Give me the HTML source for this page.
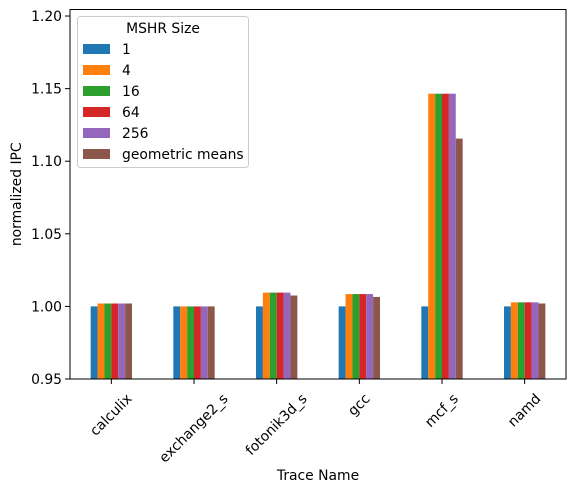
<!DOCTYPE html>
<html><head><meta charset="utf-8"><style>
body{margin:0;background:#fff}
svg{font-family:"DejaVu Sans","Liberation Sans",sans-serif;display:block}
</style></head><body>
<svg id="c" width="576" height="492" viewBox="0 0 576 492"></svg>
<script>
const categories=["calculix","exchange2_s","fotonik3d_s","gcc","mcf_s","namd"];
const seriesNames=["1","4","16","64","256","geometric means"];
const s1=[1.000,1.000,1.000,1.000,1.000,1.000];
const s4=[1.002,1.000,1.0095,1.0085,1.1465,1.0028];
const s16=[1.002,1.000,1.0095,1.0085,1.1465,1.0028];
const s64=[1.002,1.000,1.0095,1.0085,1.1465,1.0028];
const s256=[1.002,1.000,1.0095,1.0085,1.1465,1.0028];
const sGeo=[1.002,1.000,1.0075,1.0065,1.1156,1.002];
const yTicks=[0.95,1.00,1.05,1.10,1.15,1.20];
const colors=["#1f77b4","#ff7f0e","#2ca02c","#d62728","#9467bd","#8c564b"];
const series=[s1,s4,s16,s64,s256,sGeo];
const L=70,R=566,T=9.5,B=379,ymin=0.95,ymax=1.2045,FS=13.9;
const svg=document.getElementById('c');const NS='http://www.w3.org/2000/svg';
function mk(t,a,p){const e=document.createElementNS(NS,t);for(const k in a)e.setAttribute(k,a[k]);(p||svg).appendChild(e);return e;}
const xs=i=>L+(i+0.5)*(R-L)/categories.length;
const ys=v=>B-(v-ymin)/(ymax-ymin)*(B-T);
const gw=(R-L)/categories.length*0.5,bw=gw/6;
series.forEach((s,j)=>{s.forEach((v,i)=>{
 const r=mk('rect',{x:xs(i)-gw/2+j*bw,y:ys(v),width:bw,height:B-ys(v),fill:colors[j]});
 
 
});});
yTicks.forEach(t=>{const y=ys(t);
 const l=mk('line',{x1:L-5,x2:L,y1:y,y2:y,stroke:'#000','stroke-width':1});
 
 const tx=mk('text',{x:L-8,y:y+5,'font-size':FS,'text-anchor':'end'});tx.textContent=t.toFixed(2);
 
});
categories.forEach((c,i)=>{const x=xs(i);
 const l=mk('line',{x1:x,x2:x,y1:B,y2:B+5,stroke:'#000','stroke-width':1});
 
 const g=mk('g',{});
 const tx=mk('text',{x:0,y:5,'font-size':FS,'text-anchor':'middle',transform:'rotate(-45)'},g);tx.textContent=c;
 
 const bb=g.getBBox();
 g.setAttribute('transform',`translate(${x-(bb.x+bb.width/2)},${B+12-bb.y})`);
});
const fr=mk('rect',{x:L,y:T,width:R-L,height:B-T,fill:'none',stroke:'#000','stroke-width':1});

const yl=mk('text',{x:21,y:(T+B)/2,'font-size':FS,'text-anchor':'middle',transform:`rotate(-90 21 ${(T+B)/2})`});yl.textContent='normalized IPC';

const xl=mk('text',{x:(L+R)/2,y:480,'font-size':FS,'text-anchor':'middle'});xl.textContent='Trace Name';

const lg=mk('g',{});

mk('rect',{x:77.5,y:16.5,width:171,height:151,rx:3,fill:'#fff','fill-opacity':0.8,stroke:'#ccc'},lg);
const lt=mk('text',{x:163,y:33,'font-size':FS,'text-anchor':'middle'},lg);lt.textContent='MSHR Size';
seriesNames.forEach((n,j)=>{const y=44+j*21;
 const p=mk('rect',{x:83,y:y,width:27,height:10,fill:colors[j]},lg);
 
 const t=mk('text',{x:122,y:y+10,'font-size':FS},lg);t.textContent=n;
 
});
</script>
</body></html>
